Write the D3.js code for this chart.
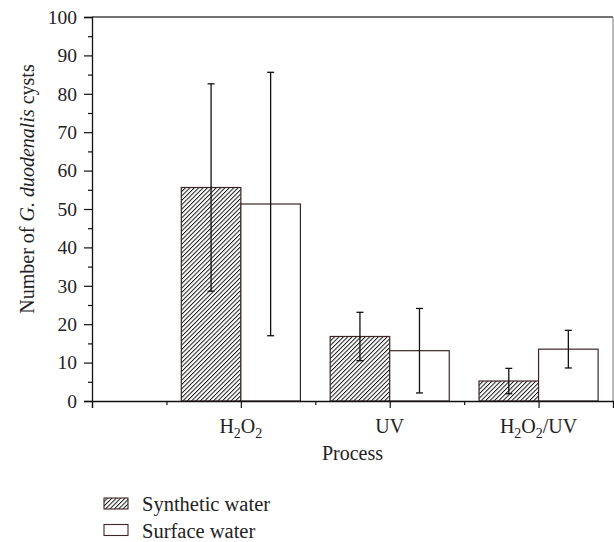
<!DOCTYPE html>
<html><head><meta charset="utf-8">
<script src="https://cdn.jsdelivr.net/npm/d3@7"></script>
<style>body{margin:0;background:#fff}svg{display:block}text{font-family:"Liberation Serif","DejaVu Serif",serif;fill:#222}</style>
</head><body><svg id="c" width="614" height="542"></svg>
<script>
const categories = ["H2O2", "UV", "H2O2/UV"];
const seriesNames = ["Synthetic water", "Surface water"];
const synthetic = [55.6, 16.8, 5.2];
const syntheticErr = [27.0, 6.3, 3.3];
const surface = [51.3, 13.1, 13.5];
const surfaceErr = [34.3, 11.0, 4.9];
const yTicks = [0,10,20,30,40,50,60,70,80,90,100];

const svg = d3.select("#c");
const m = {l:92, t:17, r:613, b:401};
const x = d3.scaleLinear().domain([0,3.5]).range([m.l, m.r]);
const y = d3.scaleLinear().domain([0,100]).range([m.b, m.t]);
const barW = x(1) - x(0.6);

const defs = svg.append("defs");
const pat = defs.append("pattern").attr("id","hatch").attr("patternUnits","userSpaceOnUse")
  .attr("width",3.1).attr("height",3.1).attr("patternTransform","rotate(45)");
pat.append("rect").attr("width",3.1).attr("height",3.1).attr("fill","#fff");
pat.append("line").attr("x1",0).attr("y1",0).attr("x2",0).attr("y2",3.1).attr("stroke","#111").attr("stroke-width",1.9);

// frame top/right
svg.append("line").attr("x1",m.l).attr("x2",m.r).attr("y1",m.t).attr("y2",m.t).attr("stroke","#444").attr("stroke-width",1.3);
svg.append("line").attr("x1",m.r).attr("x2",m.r).attr("y1",m.t).attr("y2",m.b).attr("stroke","#777").attr("stroke-width",1);

const series = [
  {name:seriesNames[0], vals:synthetic, err:syntheticErr, off:-1, fill:"url(#hatch)"},
  {name:seriesNames[1], vals:surface, err:surfaceErr, off:0, fill:"#fff"}
];
series.forEach(s=>{
  svg.append("g").selectAll("rect").data(s.vals).join("rect")
    .attr("x",(d,i)=>x(i+1)+s.off*barW).attr("width",barW)
    .attr("y",d=>y(d)).attr("height",d=>y(0)-y(d))
    .attr("fill",s.fill).attr("stroke","#3d2626").attr("stroke-width",1.2);
});
series.forEach(s=>{
  const g = svg.append("g").attr("stroke","#111").attr("stroke-width",1.3);
  s.vals.forEach((v,i)=>{
    const cx = x(i+1)+(s.off+0.5)*barW;
    g.append("line").attr("x1",cx).attr("x2",cx).attr("y1",y(v+s.err[i])).attr("y2",y(v-s.err[i]));
    [v+s.err[i], v-s.err[i]].forEach(e=>{
      g.append("line").attr("x1",cx-3.5).attr("x2",cx+3.5).attr("y1",y(e)).attr("y2",y(e));
    });
  });
});

// y axis
const yAx = svg.append("g").attr("transform",`translate(${m.l},0)`)
  .call(d3.axisLeft(y).tickValues(yTicks).tickSize(8).tickPadding(7).tickFormat(d3.format("d")));
yAx.select(".domain").attr("stroke","#111").attr("stroke-width",1.3);
yAx.selectAll(".tick line").attr("stroke","#111").attr("stroke-width",1.2);
yAx.selectAll("text").style("font-size","19.5px").attr("fill","#222");
svg.append("g").attr("transform",`translate(${m.l},0)`)
  .call(d3.axisLeft(y).tickValues(d3.range(5,100,10)).tickSize(4).tickFormat(""))
  .call(g=>g.select(".domain").remove())
  .selectAll("line").attr("stroke","#111").attr("stroke-width",1.2);

// x axis
const xAx = svg.append("g").attr("transform",`translate(0,${m.b})`)
  .call(d3.axisBottom(x).tickValues([0,1,2,3]).tickSize(7).tickFormat(""));
xAx.select(".domain").attr("stroke","#111").attr("stroke-width",1.3);
xAx.selectAll(".tick line").attr("stroke","#111").attr("stroke-width",1.2);
svg.append("g").attr("transform",`translate(0,${m.b})`)
  .call(d3.axisBottom(x).tickValues([0.5,1.5,2.5]).tickSize(4).tickFormat(""))
  .call(g=>g.select(".domain").remove())
  .selectAll("line").attr("stroke","#111").attr("stroke-width",1.2);

// category labels with subscripts
function richLabel(t, str){
  const parts = str.split(/(2)/).filter(p=>p!=="");
  let prevSub = false;
  parts.forEach(p=>{
    const ts = t.append("tspan").text(p);
    if(p==="2"){ ts.attr("dy",5).style("font-size","14px"); prevSub = true; }
    else if(prevSub){ ts.attr("dy",-5); prevSub = false; }
  });
}
categories.forEach((c,i)=>{
  const t = svg.append("text").attr("x",x(i+1)).attr("y",433).attr("text-anchor","middle").style("font-size","20px");
  richLabel(t,c);
});
svg.append("text").attr("x",(m.l+m.r)/2).attr("y",460).attr("text-anchor","middle").style("font-size","20px").text("Process");

const yt = svg.append("text").attr("transform",`translate(34,189) rotate(-90)`).attr("text-anchor","middle").style("font-size","20px");
yt.append("tspan").text("Number of ");
yt.append("tspan").style("font-style","italic").text("G. duodenalis");
yt.append("tspan").text(" cysts");

// legend
const lg = svg.append("g");
series.forEach((s,i)=>{
  const yy = 498 + i*26.5;
  lg.append("rect").attr("x",104).attr("y",yy).attr("width",24).attr("height",11)
    .attr("fill",s.fill).attr("stroke","#3d2626").attr("stroke-width",1.1);
  lg.append("text").attr("x",142).attr("y",yy+13).style("font-size","20.5px").text(s.name);
});
</script></body></html>
